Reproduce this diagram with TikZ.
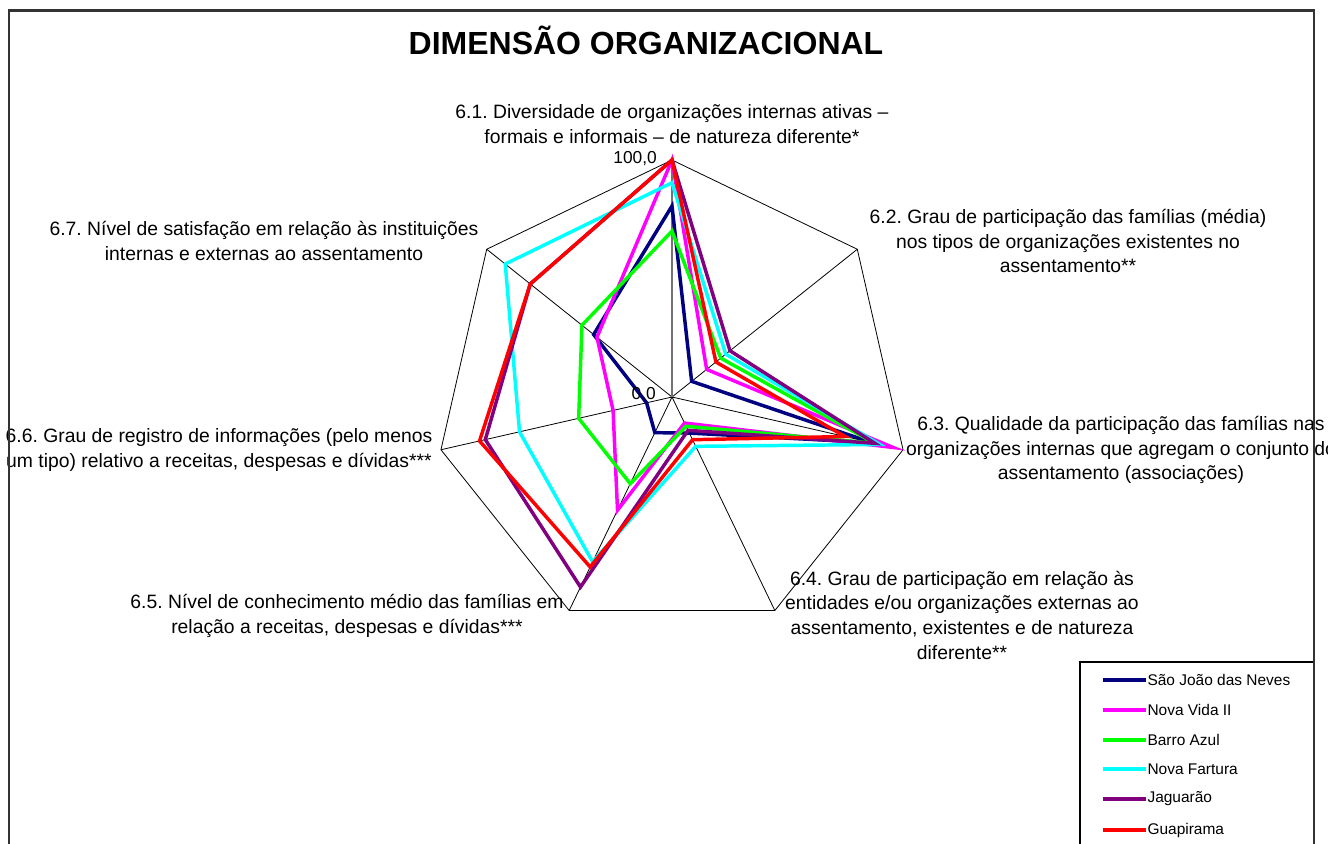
\documentclass[tikz,border=0pt]{standalone}
\usepackage{fontspec}
\setmainfont{Liberation Sans}
\frenchspacing
\definecolor{sjnavy}{RGB}{0,0,128}
\definecolor{nvmag}{RGB}{255,0,255}
\definecolor{bagreen}{RGB}{0,255,0}
\definecolor{nfcyan}{RGB}{0,255,255}
\definecolor{jgpurple}{RGB}{128,0,128}
\definecolor{gpred}{RGB}{255,0,0}
\newcommand\radarline[3]{%
  \draw[ser,#1] (90:{#2*2.37}) \foreach \v [count=\i] in {#3} { -- ({90-\i*360/7}:{\v*2.37}) } -- cycle;}
\begin{document}
\begin{tikzpicture}[x=0.75pt,y=-0.75pt,
  lbl/.style={font=\fontsize{14.5}{18.5}\selectfont, align=center, inner sep=0pt},
  ticklbl/.style={font=\fontsize{13}{15}\selectfont, inner sep=0pt},
  legtxt/.style={font=\fontsize{11.6}{14}\selectfont, inner sep=0pt, anchor=west},
  spoke/.style={black, line width=0.6pt},
  valaxis/.style={black!55, line width=0.9pt},
  poly/.style={black, line width=0.6pt},
  ser/.style={line width=2.6pt, line join=miter},
  legline/.style={line width=2.3pt},
  frame/.style={black!80, line width=1.6pt}]
\useasboundingbox (0,0) rectangle (1328,843);
\clip (0,0) rectangle (1328,843);
\fill[white] (0,0) rectangle (1328,843);

\node[font=\fontsize{24}{28}\selectfont\bfseries, anchor=base, inner sep=0pt] (title) at (646,54) {DIMENSÃO ORGANIZACIONAL};

\begin{scope}[shift={(672,397)}, y=0.75pt]
  \coordinate (c) at (0,0);
  \foreach \k in {0,...,6} \coordinate (v\k) at ({90-\k*360/7}:237);
  \draw[poly] (v0) -- (v1) -- (v2) -- (v3) -- (v4) -- (v5) -- (v6) -- cycle;
  \foreach \k in {1,...,6} \draw[spoke] (c) -- (v\k);
  \draw[valaxis] (c) -- (v0);
  \radarline{sjnavy}{80.6}{10.6,86.4,16.9,16.7,11.0,42.3}
  \radarline{nvmag}{100}{18.7,95.7,12.2,53.0,25.5,40.5}
  \radarline{bagreen}{70}{26.3,87.8,13.7,40.6,40.4,48.6}
  \radarline{nfcyan}{90.4}{29.0,90.0,23.1,77.2,66.0,90.0}
  \radarline{jgpurple}{100}{31.3,87.8,15.6,89.0,80.8,76.5}
  \radarline{gpred}{100}{23.7,74.9,20.0,79.6,83.3,76.5}
\end{scope}

\node[ticklbl, anchor=east] (t100) at (657,159) {100,0};
\node[ticklbl, anchor=east] (t0) at (656,395) {0,0};

\node[lbl] (l1) at (672,124) {6.1. Diversidade de organizações internas ativas –\\formais e informais – de natureza diferente*};
\node[lbl] (l2) at (1068,241) {6.2. Grau de participação das famílias (média)\\nos tipos de organizações existentes no\\assentamento**};
\node[lbl] (l3) at (1121,450) {6.3. Qualidade da participação das famílias nas\\organizações internas que agregam o conjunto do\\assentamento (associações)};
\node[lbl] (l4) at (962,615) {6.4. Grau de participação em relação às\\entidades e/ou organizações externas ao\\assentamento, existentes e de natureza\\diferente**};
\node[lbl] (l5) at (347,616) {6.5. Nível de conhecimento médio das famílias em\\relação a receitas, despesas e dívidas***};
\node[lbl] (l6) at (219,450) {6.6. Grau de registro de informações (pelo menos\\um tipo) relativo a receitas, despesas e dívidas***};
\node[lbl] (l7) at (264,241) {6.7. Nível de satisfação em relação às instituições\\internas e externas ao assentamento};

% legend
\draw[black, line width=0.8pt, fill=white] (1080,900) -- (1080,662) -- (1314,662) -- (1314,900);
\draw[legline, sjnavy] (1103,680) -- (1146,680) node[legtxt, black] (g1) {São João das Neves};
\draw[legline, nvmag] (1103,710) -- (1146,710) node[legtxt, black] (g2) {Nova Vida II};
\draw[legline, bagreen] (1103,740) -- (1146,740) node[legtxt, black] (g3) {Barro Azul};
\draw[legline, nfcyan] (1103,769) -- (1146,769) node[legtxt, black] (g4) {Nova Fartura};
\draw[legline, jgpurple] (1103,799) -- (1146,799) node[legtxt, black] (g5) {Jaguarão};
\draw[legline, gpred] (1103,830) -- (1146,830) node[legtxt, black] (g6) {Guapirama};

% frame
\draw[frame] (9,900) -- (9,10.5) -- (1314,10.5) -- (1314,900);
\end{tikzpicture}
\end{document}
